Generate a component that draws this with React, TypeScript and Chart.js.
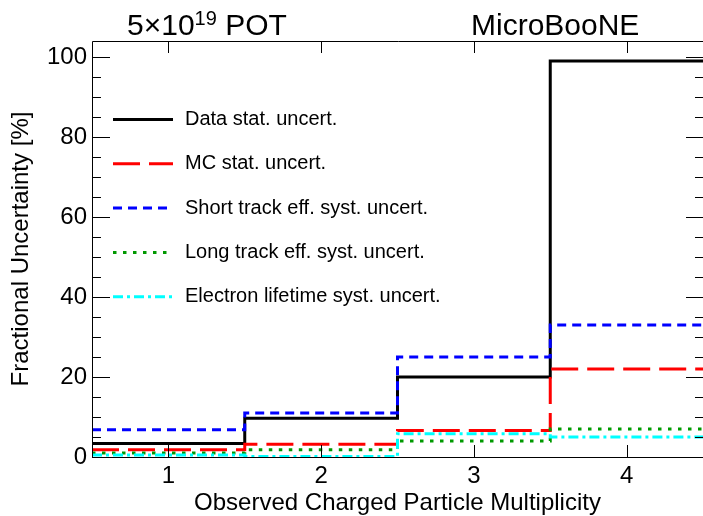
import React, { useEffect, useRef } from "react";
import { Chart, registerables } from "chart.js";

Chart.register(...registerables);

const FONT = "'Liberation Sans', Arial, Helvetica, sans-serif";

// Bin centres (observed charged particle multiplicity)
const binCenters = [1, 2, 3, 4];

// Fractional uncertainties [%] per bin
const dataStat = [3.4, 9.7, 20, 99];
const mcStat = [1.8, 3.2, 6.6, 22];
const shortTrackSyst = [6.8, 11, 25, 33];
const longTrackSyst = [1.0, 1.8, 4.0, 7.0];
const electronLifetimeSyst = [0.5, 0.1, 5.8, 5.0];

const seriesLabels = [
  "Data stat. uncert.",
  "MC stat. uncert.",
  "Short track eff. syst. uncert.",
  "Long track eff. syst. uncert.",
  "Electron lifetime syst. uncert.",
];

const xTickValues = [1, 2, 3, 4];
const yTickValues = [0, 20, 40, 60, 80, 100];

const titleLeft = { base: "5×10", sup: "19", tail: " POT" };
const titleRight = "MicroBooNE";

function toSteps(values: number[]) {
  const pts = binCenters.map((c, i) => ({ x: c - 0.5, y: values[i] }));
  const last = binCenters.length - 1;
  pts.push({ x: binCenters[last] + 0.5, y: values[last] });
  return pts;
}

const decorPlugin = {
  id: "decor",
  afterDraw(chart: any) {
    const { ctx, chartArea: a, scales } = chart;
    const xs = scales.x;
    const ys = scales.y;
    ctx.save();
    ctx.strokeStyle = "#000";
    ctx.lineWidth = 1;
    ctx.beginPath();
    // frame
    ctx.moveTo(a.left + 0.5, a.bottom + 0.5);
    ctx.lineTo(a.left + 0.5, a.top + 0.5);
    ctx.lineTo(a.right + 2, a.top + 0.5);
    ctx.moveTo(a.left, a.bottom + 0.5);
    ctx.lineTo(a.right + 2, a.bottom + 0.5);
    // y ticks (major + minor)
    for (let v = 0; v <= ys.max + 1e-6; v += 5) {
      const y = Math.round(ys.getPixelForValue(v)) + 0.5;
      const len = yTickValues.includes(v) ? 18 : 9;
      ctx.moveTo(a.left, y);
      ctx.lineTo(a.left + len, y);
      ctx.moveTo(a.right + 1, y);
      ctx.lineTo(a.right + 1 - len, y);
    }
    // x ticks
    for (const v of xTickValues) {
      const x = Math.round(xs.getPixelForValue(v)) + 0.5;
      ctx.moveTo(x, a.bottom);
      ctx.lineTo(x, a.bottom - 12);
      ctx.moveTo(x, a.top);
      ctx.lineTo(x, a.top + 12);
    }
    ctx.stroke();

    // legend
    ctx.font = `20px ${FONT}`;
    ctx.textBaseline = "middle";
    ctx.textAlign = "left";
    chart.data.datasets.forEach((ds: any, i: number) => {
      const y = a.top + 78.5 + i * 44.3;
      ctx.save();
      ctx.strokeStyle = ds.borderColor;
      ctx.lineWidth = ds.borderWidth;
      ctx.setLineDash(ds.borderDash || []);
      ctx.beginPath();
      ctx.moveTo(a.left + 21, y);
      ctx.lineTo(a.left + 81, y);
      ctx.stroke();
      ctx.restore();
      ctx.fillStyle = "#000";
      ctx.fillText(ds.label, a.left + 93, y);
    });

    // top labels
    ctx.textBaseline = "alphabetic";
    ctx.fillStyle = "#000";
    let x = 127;
    ctx.font = `30px ${FONT}`;
    ctx.fillText(titleLeft.base, x, 35);
    x += ctx.measureText(titleLeft.base).width;
    ctx.font = `20px ${FONT}`;
    ctx.fillText(titleLeft.sup, x, 25);
    x += ctx.measureText(titleLeft.sup).width;
    ctx.font = `30px ${FONT}`;
    ctx.fillText(titleLeft.tail, x, 35);
    ctx.fillText(titleRight, 471, 35);
    ctx.restore();
  },
};

export default function App() {
  const ref = useRef<HTMLCanvasElement | null>(null);

  useEffect(() => {
    document.body.style.margin = "0";
    document.body.style.overflow = "hidden";
    const canvas = ref.current;
    if (!canvas) return;
    const styles = [
      { color: "#000000", dash: [] as number[] },
      { color: "#ff0000", dash: [27, 9] },
      { color: "#0000ff", dash: [9, 6] },
      { color: "#009900", dash: [3.5, 6.5] },
      { color: "#00ffff", dash: [10, 4, 3, 4] },
    ];
    const series = [dataStat, mcStat, shortTrackSyst, longTrackSyst, electronLifetimeSyst];
    const chart = new Chart(canvas, {
      type: "line",
      data: {
        datasets: series.map((vals, i) => ({
          label: seriesLabels[i],
          data: toSteps(vals),
          borderColor: styles[i].color,
          backgroundColor: styles[i].color,
          borderDash: styles[i].dash,
          borderWidth: 3,
          pointRadius: 0,
          stepped: "before" as const,
          fill: false,
          order: 5 - i,
        })),
      },
      options: {
        animation: false,
        responsive: false,
        maintainAspectRatio: false,
        layout: { padding: { top: 41, right: 0, left: 0, bottom: 0 } },
        plugins: { legend: { display: false }, tooltip: { enabled: false }, title: { display: false } },
        scales: {
          x: {
            type: "linear",
            min: 0.5,
            max: 4.5,
            grid: { display: false, drawTicks: false },
            border: { display: false },
            afterBuildTicks: (s: any) => {
              s.ticks = xTickValues.map((v) => ({ value: v }));
            },
            afterFit: (s: any) => {
              s.height = 59;
            },
            ticks: {
              color: "#000",
              padding: 5,
              font: { family: FONT, size: 24 },
              callback: (v: any) => String(v),
              maxRotation: 0,
            },
            title: {
              display: true,
              text: "Observed Charged Particle Multiplicity",
              color: "#000",
              font: { family: FONT, size: 24 },
              padding: { top: 0, bottom: -2 },
            },
          },
          y: {
            type: "linear",
            min: 0,
            max: 104,
            grid: { display: false, drawTicks: false },
            border: { display: false },
            afterBuildTicks: (s: any) => {
              s.ticks = yTickValues.map((v) => ({ value: v }));
            },
            afterFit: (s: any) => {
              s.width = 92;
            },
            ticks: {
              color: "#000",
              padding: 5,
              font: { family: FONT, size: 24 },
              callback: (v: any) => String(v),
            },
            title: {
              display: true,
              text: "Fractional Uncertainty [%]",
              color: "#000",
              font: { family: FONT, size: 24 },
              padding: { top: 7, bottom: 0 },
            },
          },
        },
      },
      plugins: [decorPlugin],
    });
    return () => chart.destroy();
  }, []);

  return (
    <canvas
      ref={ref}
      width={703}
      height={516}
      style={{ display: "block", width: 703, height: 516 }}
    />
  );
}
